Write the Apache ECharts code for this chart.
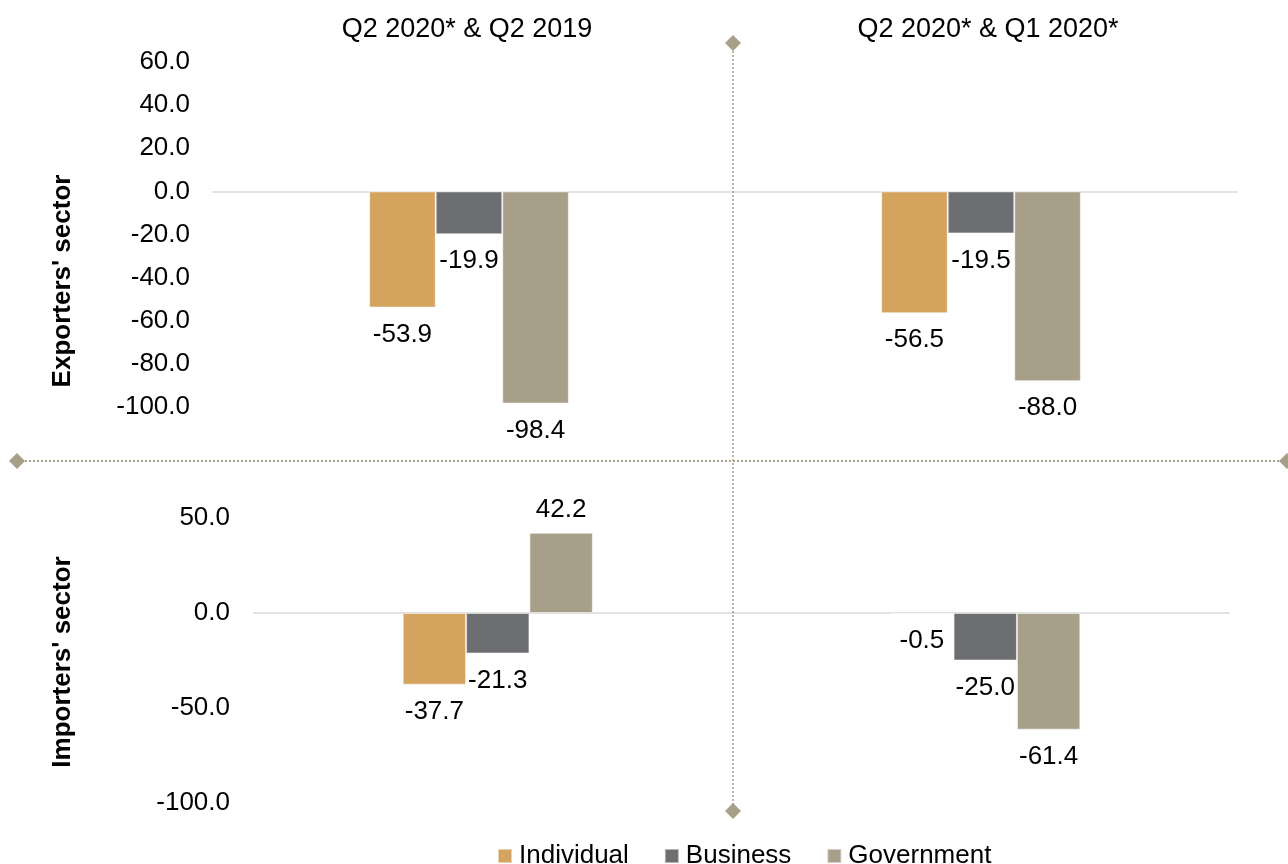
<!DOCTYPE html>
<html>
<head>
<meta charset="utf-8">
<script src="https://cdn.jsdelivr.net/npm/echarts@6/dist/echarts.min.js"></script>
<style>html,body{margin:0;padding:0;background:#fff;}#c{width:1288px;height:864px;}</style>
</head>
<body>
<div id="c"></div>
<script>
var categories = ['Q2 2020* & Q2 2019', 'Q2 2020* & Q1 2020*'];
var seriesNames = ['Individual', 'Business', 'Government'];
var exportersIndividual = [-53.9, -56.5];
var exportersBusiness = [-19.9, -19.5];
var exportersGovernment = [-98.4, -88.0];
var importersIndividual = [-37.7, -0.5];
var importersBusiness = [-21.3, -25.0];
var importersGovernment = [42.2, -61.4];
var panelNames = ["Exporters' sector", "Importers' sector"];

var colors = ['#D4A45F', '#6D6E72', '#A89F89'];
var FONT = 'Liberation Sans, Arial, sans-serif';

function toItems(arr) {
  return arr.map(function (v) {
    return { value: v, label: { position: v < 0 ? 'bottom' : 'top', distance: v < 0 ? 14 : 10 } };
  });
}
function mk(name, idx, arr, color) {
  return {
    name: name, type: 'bar', xAxisIndex: idx, yAxisIndex: idx,
    data: toItems(arr), barGap: '0%', barCategoryGap: '61%',
    itemStyle: { color: color, borderColor: 'rgba(255,255,255,0.5)', borderWidth: 1 },
    label: { show: true, color: '#000', fontSize: 26, fontFamily: FONT,
      formatter: function (p) { return p.value.toFixed(1); } }
  };
}
var diamondColor = '#A89F89';
var chart = echarts.init(document.getElementById('c'));
chart.setOption({
  animation: false,
  backgroundColor: '#fff',
  title: [
    { text: categories[0], left: 467, top: 16, textAlign: 'center', padding: 0,
      textStyle: { fontFamily: FONT, fontSize: 27, fontWeight: 'normal', color: '#000' } },
    { text: categories[1], left: 988, top: 16, textAlign: 'center', padding: 0,
      textStyle: { fontFamily: FONT, fontSize: 27, fontWeight: 'normal', color: '#000' } }
  ],
  legend: {
    data: seriesNames, left: 492, top: 838, icon: 'rect', itemWidth: 14, itemHeight: 14,
    itemGap: 35, textStyle: { fontFamily: FONT, fontSize: 26, color: '#000', padding: [0, 0, 0, 2] }
  },
  grid: [
    { left: 213, right: 51, top: 62, bottom: 457 },
    { left: 254, right: 59, top: 518, bottom: 61 }
  ],
  xAxis: [
    { type: 'category', gridIndex: 0, data: categories, axisLabel: { show: false }, axisTick: { show: false },
      axisLine: { onZero: true, lineStyle: { color: '#E2E2E2', width: 2 } } },
    { type: 'category', gridIndex: 1, data: categories, axisLabel: { show: false }, axisTick: { show: false },
      axisLine: { onZero: true, lineStyle: { color: '#E2E2E2', width: 2 } } }
  ],
  yAxis: [
    { type: 'value', gridIndex: 0, min: -100, max: 60, interval: 20, splitLine: { show: false },
      axisLine: { show: false }, axisTick: { show: false },
      axisLabel: { margin: 23, fontFamily: FONT, fontSize: 26, color: '#000', formatter: function (v) { return v.toFixed(1); } } },
    { type: 'value', gridIndex: 1, min: -100, max: 50, interval: 50, splitLine: { show: false },
      axisLine: { show: false }, axisTick: { show: false },
      axisLabel: { margin: 24, fontFamily: FONT, fontSize: 26, color: '#000', formatter: function (v) { return v.toFixed(1); } } }
  ],
  series: [
    mk(seriesNames[0], 0, exportersIndividual, colors[0]),
    mk(seriesNames[1], 0, exportersBusiness, colors[1]),
    mk(seriesNames[2], 0, exportersGovernment, colors[2]),
    mk(seriesNames[0], 1, importersIndividual, colors[0]),
    mk(seriesNames[1], 1, importersBusiness, colors[1]),
    mk(seriesNames[2], 1, importersGovernment, colors[2])
  ],
  graphic: [
    { type: 'line', shape: { x1: 733, y1: 43, x2: 733, y2: 811 }, style: { stroke: diamondColor, lineWidth: 1.5, lineDash: [2, 2] }, z: 1 },
    { type: 'line', shape: { x1: 17, y1: 461, x2: 1285, y2: 461 }, style: { stroke: diamondColor, lineWidth: 2, lineDash: [2, 2] }, z: 1 },
    { type: 'polygon', shape: { points: [[733, 35], [741, 43], [733, 51], [725, 43]] }, style: { fill: diamondColor } },
    { type: 'polygon', shape: { points: [[733, 803], [741, 811], [733, 819], [725, 811]] }, style: { fill: diamondColor } },
    { type: 'polygon', shape: { points: [[17, 453], [25, 461], [17, 469], [9, 461]] }, style: { fill: diamondColor } },
    { type: 'polygon', shape: { points: [[1287, 453], [1295, 461], [1287, 469], [1279, 461]] }, style: { fill: diamondColor } },
    { type: 'text', x: 63, y: 281, rotation: Math.PI / 2,
      style: { text: panelNames[0], fontFamily: FONT, fontSize: 26, fontWeight: 'bold', fill: '#000', textAlign: 'center', textVerticalAlign: 'middle' } },
    { type: 'text', x: 63, y: 662, rotation: Math.PI / 2,
      style: { text: panelNames[1], fontFamily: FONT, fontSize: 26, fontWeight: 'bold', fill: '#000', textAlign: 'center', textVerticalAlign: 'middle' } }
  ]
});
</script>
</body>
</html>
